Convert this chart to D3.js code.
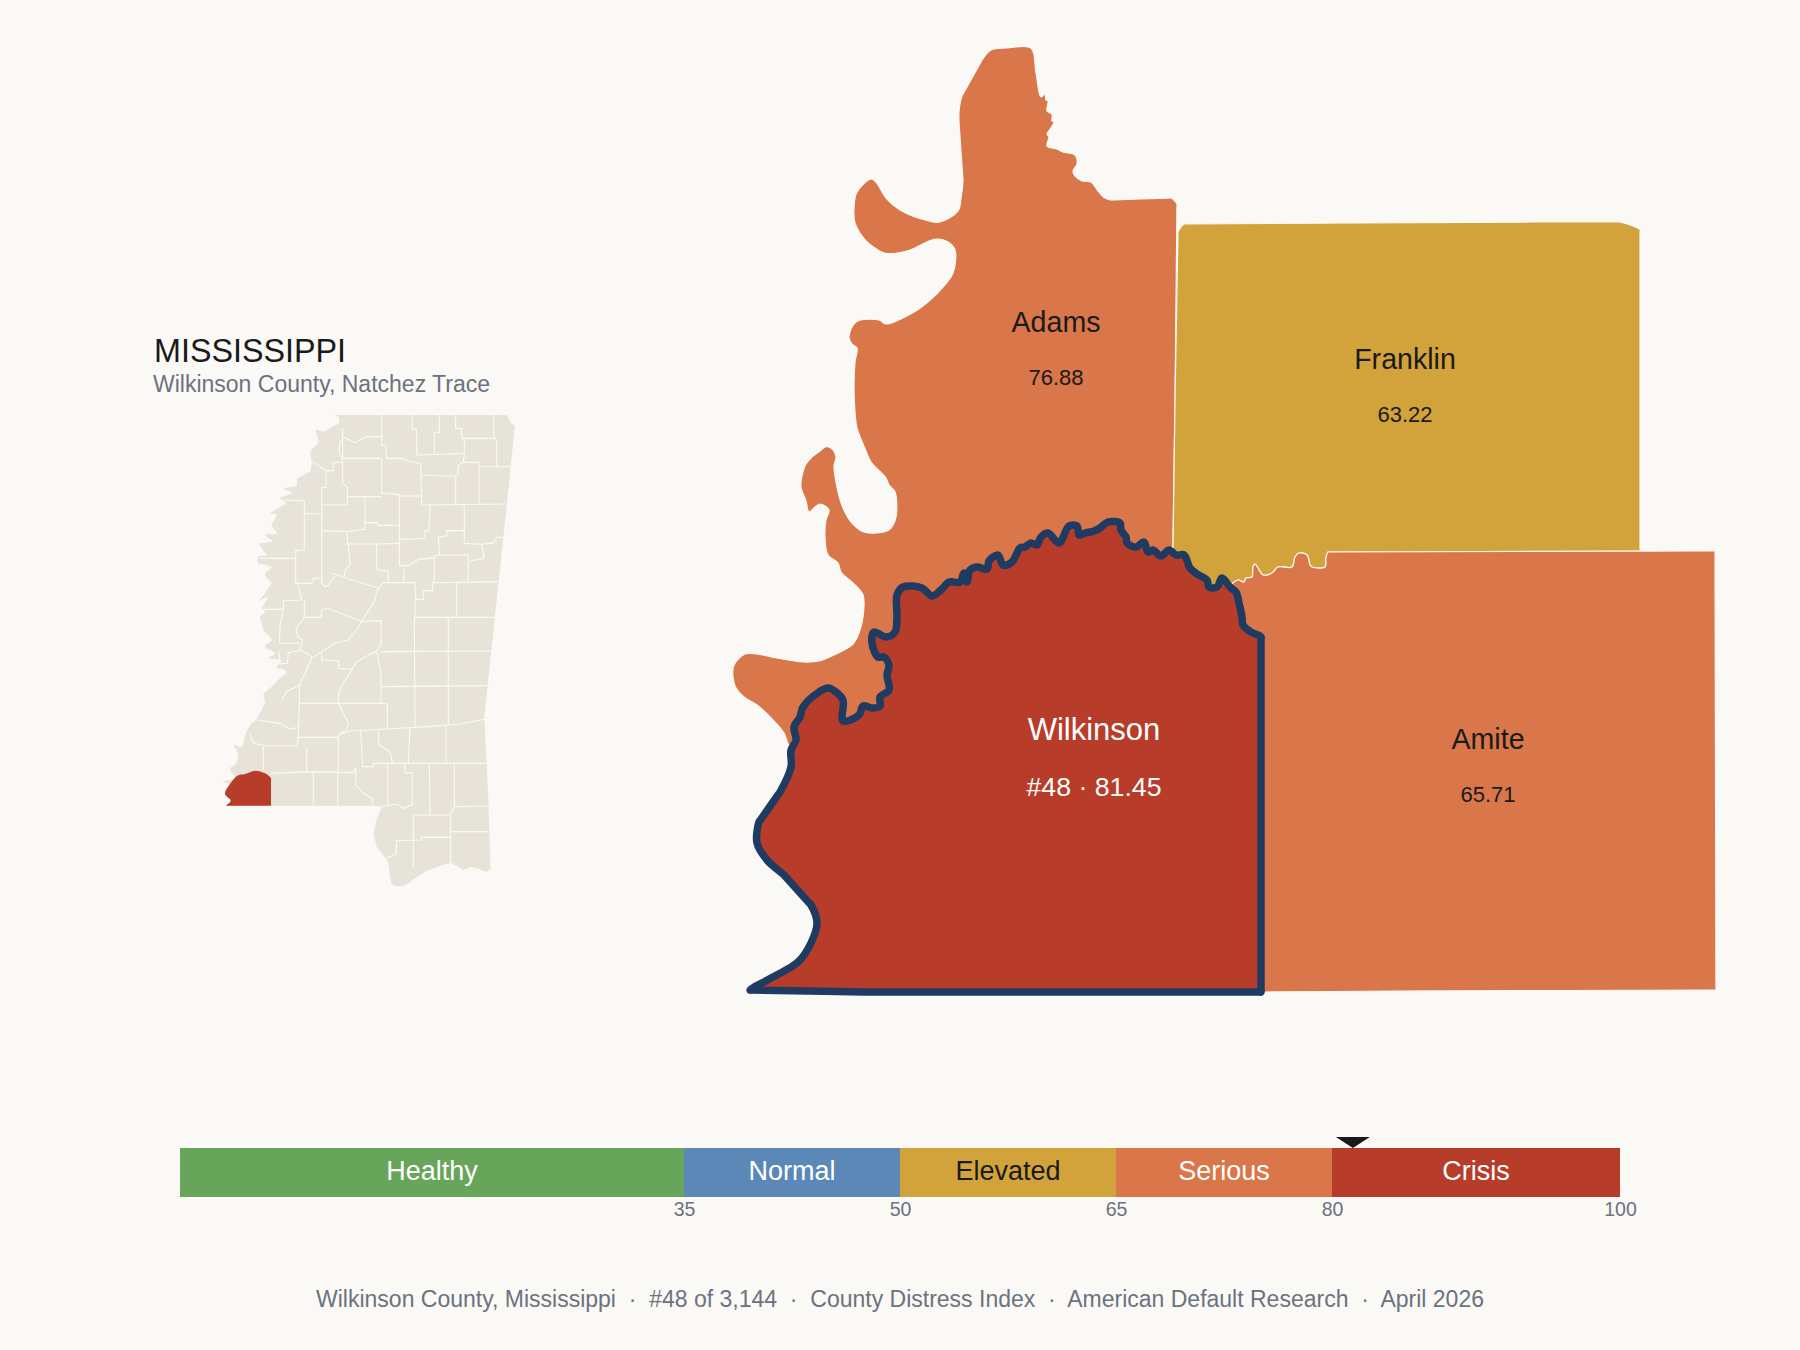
<!DOCTYPE html>
<html>
<head>
<meta charset="utf-8">
<title>Wilkinson County, Mississippi</title>
<script src="https://cdn.jsdelivr.net/npm/d3@7"></script>
<style>
  html, body { margin: 0; background: #fbf9f5; }
  text { font-family: "Liberation Sans", Arial, sans-serif; }
</style>
</head>
<body>
<svg id="chart" width="1800" height="1350"></svg>
<script>
// distress tiers
const tierNames = ["Healthy", "Normal", "Elevated", "Serious", "Crisis"];
const tierBreaks = [0, 35, 50, 65, 80, 100];
const tierColors = ["#67a65a", "#5c88b8", "#d1a33a", "#d9764a", "#b83c2a"];
const tierText = ["#ffffff", "#ffffff", "#1a1a1a", "#ffffff", "#ffffff"];
const tickValues = [35, 50, 65, 80, 100];

// counties on the main map
const countyNames = ["Adams", "Franklin", "Amite", "Wilkinson"];
const countyScores = [76.88, 63.22, 65.71, 81.45];
const labelSpots = [[1056, 332], [1405, 369], [1488, 749], [1094, 740]];
const focusRank = 48;

// outlines
const adamsShape = [[1031,48],[1036,73],[1041,97],[1045,94],[1046,100],[1048,101],[1047,111],[1052,114],[1052,121],[1054,122],[1051,128],[1047,134],[1049,137],[1047,146],[1057,149],[1063,152],[1075,155],[1077,164],[1073,171],[1075,176],[1082,181],[1091,182],[1098,191],[1105,198],[1111,200],[1171,198],[1177,204],[1175,400],[1173,546],[1173,570],[900,720],[789,745],[784,733],[773,720],[757,705],[744,697],[736,688],[733,677],[734,665],[745,654],[757,654],[777,658],[803,662],[819,661],[834,655],[853,644],[859,633],[863,617],[863,595],[853,583],[841,572],[838,563],[828,555],[825,537],[826,520],[829,510],[820,504],[814,508],[809,512],[806,501],[801,487],[802,476],[806,464],[812,457],[820,451],[825,447],[831,448],[836,457],[834,466],[837,487],[843,508],[852,523],[864,532],[884,532],[891,528],[896,517],[895,492],[889,485],[886,478],[871,462],[866,451],[857,428],[855,412],[854,387],[855,362],[857,348],[852,344],[849,337],[856,322],[879,320],[886,324],[914,312],[929,301],[943,287],[953,273],[955,250],[948,242],[937,239],[929,241],[907,251],[884,253],[875,248],[866,241],[855,223],[854,208],[857,192],[871,179],[876,182],[886,198],[900,210],[929,221],[940,222],[958,211],[961,198],[963,180],[960,137],[959,112],[962,96],[982,60],[991,50],[1007,48]];
const franklinShape = [[1184,224],[1537,222],[1620,222],[1640,230],[1640,551],[1328,552],[1326,558],[1325,567],[1312,567],[1310,565],[1307,555],[1299,553],[1295,557],[1292,567],[1278,567],[1272,573],[1263,575],[1258,568],[1255,564],[1253,567],[1252,577],[1246,578],[1244,582],[1238,580],[1233,583],[1225,592],[1175,565],[1173,547],[1175,400],[1178,232]];
const amiteShape = [[1233,583],[1238,580],[1244,582],[1246,578],[1252,577],[1253,567],[1255,564],[1258,568],[1263,575],[1272,573],[1278,567],[1292,567],[1295,557],[1299,553],[1307,555],[1310,565],[1312,567],[1325,567],[1326,558],[1328,552],[1715,551],[1716,990],[1400,991],[1262,992],[1240,640],[1225,592]];
const wilkinsonShape = [[1261,992],[1261,800],[1261,637],[1251,632],[1243,625],[1242,617],[1239,603],[1236,592],[1230,587],[1222,578],[1217,587],[1209,587],[1207,580],[1197,574],[1190,568],[1184,555],[1176,555],[1169,550],[1161,556],[1153,550],[1148,552],[1144,542],[1136,547],[1127,543],[1126,537],[1121,530],[1120,523],[1108,522],[1100,528],[1094,531],[1085,533],[1079,535],[1077,526],[1069,526],[1059,543],[1048,533],[1041,537],[1037,545],[1031,543],[1025,547],[1020,548],[1012,562],[1003,565],[998,555],[989,561],[987,569],[977,567],[970,570],[967,582],[964,573],[960,582],[949,582],[941,590],[932,596],[922,588],[903,587],[897,595],[897,617],[895,632],[886,637],[874,632],[872,643],[878,657],[884,657],[889,665],[887,675],[889,690],[880,697],[880,706],[872,708],[863,706],[859,715],[843,721],[843,700],[836,692],[828,688],[819,692],[803,707],[800,717],[794,727],[796,740],[791,750],[791,767],[780,792],[759,822],[757,843],[767,860],[784,875],[811,905],[817,923],[811,943],[798,962],[773,977],[750,990],[868,992],[1100,992]];

// state inset
const stateShape = [[373,45],[890,45],[903,68],[915,78],[823,958],[835,1190],[842,1406],[830,1415],[800,1405],[780,1402],[760,1410],[725,1390],[690,1398],[650,1412],[615,1435],[585,1455],[550,1455],[540,1430],[535,1390],[528,1375],[500,1340],[490,1300],[500,1260],[515,1220],[470,1217],[48,1217],[62,1202],[45,1182],[60,1155],[40,1145],[75,1135],[60,1105],[75,1095],[85,1065],[72,1035],[95,1042],[105,1005],[115,985],[125,970],[135,962],[155,930],[165,905],[160,885],[185,860],[210,835],[230,815],[200,800],[215,780],[175,775],[195,760],[165,740],[185,720],[160,690],[150,650],[165,635],[155,625],[175,590],[150,600],[185,550],[165,525],[185,500],[145,490],[145,470],[170,465],[145,430],[190,425],[165,405],[200,400],[185,375],[200,345],[180,340],[230,310],[210,295],[245,280],[220,265],[260,258],[262,235],[300,215],[305,185],[302,155],[325,125],[318,90],[340,95],[388,70],[385,50]];
const focusShape = [[48,1217],[62,1202],[45,1182],[60,1152],[82,1127],[105,1122],[135,1112],[165,1120],[183,1135],[183,1217]];
const stateBorders = [
  [[515,45],[515,135],[527,137],[530,175],[575,175],[590,183],[632,190]],
  [[607,45],[607,88],[620,88],[620,165],[632,165],[760,160]],
  [[688,45],[688,97],[673,97],[673,160]],
  [[737,45],[737,85],[755,85],[755,115],[855,115],[860,122],[860,200]],
  [[851,45],[851,115]],
  [[763,115],[763,160],[760,187],[807,187],[807,310]],
  [[398,85],[398,178],[387,155],[390,125],[405,113],[435,128],[470,110],[515,110]],
  [[398,175],[515,175]],
  [[515,175],[515,280],[568,283]],
  [[398,178],[398,250],[412,262],[412,315],[335,315]],
  [[308,185],[348,212],[348,262],[335,262],[335,392]],
  [[348,212],[370,212],[370,187],[398,187]],
  [[412,290],[515,290]],
  [[465,290],[465,388],[450,390],[413,395]],
  [[632,190],[635,315]],
  [[568,288],[632,288]],
  [[635,225],[710,228],[735,228],[745,220],[745,195],[760,187]],
  [[737,228],[737,315]],
  [[807,200],[900,200]],
  [[635,315],[890,312]],
  [[660,315],[657,392],[645,392],[645,415],[568,418]],
  [[568,283],[568,497],[595,497]],
  [[763,312],[763,430]],
  [[763,392],[710,392],[710,408],[685,412],[688,465],[775,465],[775,545]],
  [[763,430],[815,433],[850,428],[860,412],[880,412]],
  [[815,433],[822,475],[780,483]],
  [[688,465],[673,468],[673,545]],
  [[595,497],[625,478],[673,473]],
  [[583,505],[580,545]],
  [[465,368],[500,368],[505,376],[568,376]],
  [[412,395],[412,432],[500,432],[568,430]],
  [[500,432],[500,508],[535,515],[535,545]],
  [[335,392],[412,395]],
  [[335,392],[335,550],[345,560],[355,555],[375,530]],
  [[283,300],[283,450],[257,452],[257,550],[305,550],[310,535],[333,535]],
  [[212,300],[283,302]],
  [[283,340],[335,342]],
  [[150,475],[257,475]],
  [[415,432],[420,495],[405,510],[403,530]],
  [[365,520],[505,565]],
  [[520,548],[505,565],[490,610],[470,640],[455,665],[440,690],[415,720],[375,730],[335,755],[305,775],[290,810],[268,855],[230,875],[215,900]],
  [[520,548],[615,548],[617,598],[640,598],[640,572],[668,572],[668,548],[864,545]],
  [[740,548],[740,652]],
  [[615,598],[615,652],[855,652]],
  [[355,625],[455,665],[513,662],[513,735],[500,752],[513,820],[513,910],[532,912],[532,986]],
  [[265,555],[275,600],[220,602],[220,628],[160,628]],
  [[283,600],[283,652],[333,652],[335,630],[355,625]],
  [[283,652],[258,685],[262,710],[278,720],[270,750],[300,765],[305,775]],
  [[220,628],[210,680],[208,730]],
  [[613,652],[615,980]],
  [[715,652],[715,975]],
  [[515,755],[845,753]],
  [[515,860],[835,857]],
  [[385,1005],[420,993],[530,987],[650,980],[750,972],[823,958]],
  [[600,985],[595,1090]],
  [[708,977],[708,1090]],
  [[452,995],[458,1100]],
  [[506,990],[506,1035],[540,1055],[548,1090]],
  [[490,1090],[830,1090]],
  [[437,1102],[437,1155],[460,1180],[488,1197],[488,1217]],
  [[458,1100],[490,1100],[490,1090]],
  [[533,1090],[533,1217]],
  [[583,1090],[585,1118],[607,1118],[607,1217]],
  [[515,1220],[560,1212],[580,1225],[607,1215]],
  [[658,1090],[660,1243]],
  [[733,1090],[733,1218]],
  [[610,1245],[720,1245],[735,1220],[835,1218]],
  [[722,1245],[722,1295],[835,1295]],
  [[720,1312],[635,1312],[635,1320],[560,1322],[558,1362],[530,1375]],
  [[610,1245],[610,1400]],
  [[722,1295],[722,1390]],
  [[268,855],[268,910],[265,1010],[262,1038],[160,1038],[160,1110]],
  [[268,910],[385,910],[515,910]],
  [[385,910],[415,970],[410,990],[385,1005],[385,1115]],
  [[262,1012],[385,1012]],
  [[290,1040],[290,1115]],
  [[183,1120],[310,1115],[430,1118],[437,1102]],
  [[310,1115],[310,1217]],
  [[383,1115],[383,1217]],
  [[500,752],[440,785],[400,850],[387,875],[385,910]],
  [[335,755],[335,780],[385,782],[387,805],[430,808]],
  [[270,730],[210,730]],
  [[275,750],[235,758],[232,790],[205,792]],
  [[208,755],[208,790]],
  [[140,960],[210,970],[238,987],[262,983]],
  [[120,1000],[130,1030],[160,1035]]
];

const svg = d3.select("#chart");
const dark = "#1a1a1a", grey = "#6b7280", paper = "#fbf9f5";
const tierColor = d3.scaleThreshold().domain(tierBreaks.slice(1, 5)).range(tierColors);

// pin long edges so the spline stays straight along them
function tighten(ring, gap, long) {
  const out = [];
  ring.forEach((p, i) => {
    const q = ring[(i + 1) % ring.length];
    const len = Math.hypot(q[0] - p[0], q[1] - p[1]);
    out.push(p);
    if (len > long) {
      const t = gap / len;
      out.push([p[0] + (q[0] - p[0]) * t, p[1] + (q[1] - p[1]) * t]);
      out.push([q[0] - (q[0] - p[0]) * t, q[1] - (q[1] - p[1]) * t]);
    }
  });
  return out;
}

svg.append("rect").attr("width", 1800).attr("height", 1350).attr("fill", paper);

// title + inset
svg.append("text").attr("x", 154).attr("y", 362)
  .attr("font-size", 32.3).attr("fill", dark).text("MISSISSIPPI");
svg.append("text").attr("x", 153).attr("y", 392)
  .attr("font-size", 23).attr("fill", grey).text("Wilkinson County, Natchez Trace");

const insetX = d3.scaleLinear().domain([0, 960]).range([210, 530]);
const insetY = d3.scaleLinear().domain([0, 1470]).range([400, 890]);
const insetLine = d3.line().x(d => insetX(d[0])).y(d => insetY(d[1]));
const insetCurve = d3.line().x(d => insetX(d[0])).y(d => insetY(d[1]))
  .curve(d3.curveCatmullRomClosed.alpha(0.5));

const inset = svg.append("g");
inset.append("path").attr("d", insetCurve(tighten(stateShape, 6, 40))).attr("fill", "#e8e3d8");
inset.selectAll("path.border").data(stateBorders).join("path")
  .attr("class", "border")
  .attr("d", insetLine)
  .attr("fill", "none").attr("stroke", paper).attr("stroke-width", 1.1);
inset.append("path").attr("d", insetCurve(tighten(focusShape, 6, 40))).attr("fill", tierColor(countyScores[3]));

// main map
const shapes = [adamsShape, franklinShape, amiteShape, wilkinsonShape];
const allPts = shapes.flat();
const mapX = d3.scaleLinear().domain(d3.extent(allPts, d => d[0])).range([733, 1716]);
const mapY = d3.scaleLinear().domain(d3.extent(allPts, d => d[1])).range([48, 992]);
const mapLine = d3.line().x(d => mapX(d[0])).y(d => mapY(d[1]))
  .curve(d3.curveCatmullRomClosed.alpha(0.5));

svg.append("g").selectAll("path").data(shapes).join("path")
  .attr("d", d => mapLine(tighten(d, 3, 34)))
  .attr("fill", (d, i) => tierColor(countyScores[i]))
  .attr("stroke", (d, i) => countyNames[i] == "Wilkinson" ? "#1f3b61" : paper)
  .attr("stroke-width", (d, i) => countyNames[i] == "Wilkinson" ? 7.5 : 1.2)
  .attr("stroke-linejoin", "round");

countyNames.forEach((name, i) => {
  const focus = name == "Wilkinson";
  const col = focus ? "#ffffff" : dark;
  svg.append("text").attr("x", labelSpots[i][0]).attr("y", labelSpots[i][1])
    .attr("text-anchor", "middle").attr("font-size", focus ? 31 : 28.6).attr("fill", col).text(name);
  svg.append("text").attr("x", labelSpots[i][0]).attr("y", labelSpots[i][1] + (focus ? 56 : 53))
    .attr("text-anchor", "middle").attr("font-size", focus ? 26.7 : 22).attr("fill", col)
    .text(focus ? `#${focusRank} · ${countyScores[i]}` : countyScores[i]);
});

// scale bar
const barX = d3.scaleLinear().domain([0, 100]).range([180, 1620]);
const barTop = 1148, barH = 49;
const tiers = tierNames.map((name, i) => ({ name, from: tierBreaks[i], to: tierBreaks[i + 1], i }));

const bar = svg.append("g");
bar.selectAll("rect").data(tiers).join("rect")
  .attr("x", d => barX(d.from)).attr("y", barTop)
  .attr("width", d => barX(d.to) - barX(d.from)).attr("height", barH)
  .attr("fill", d => tierColors[d.i]);
bar.selectAll("text").data(tiers).join("text")
  .attr("x", d => barX((d.from + d.to) / 2)).attr("y", barTop + 32)
  .attr("text-anchor", "middle").attr("font-size", 27)
  .attr("fill", d => tierText[d.i]).text(d => d.name);

const axis = svg.append("g").attr("transform", `translate(0,${barTop + barH})`)
  .call(d3.axisBottom(barX).tickValues(tickValues).tickSize(0).tickPadding(5));
axis.select(".domain").remove();
axis.selectAll("text").attr("font-size", 19.5).attr("fill", grey)
  .style("font-family", '"Liberation Sans", Arial, sans-serif');

// marker for the county's score
const mx = barX(countyScores[3]);
svg.append("path")
  .attr("d", d3.line()([[mx - 17, barTop - 11], [mx + 17, barTop - 11], [mx, barTop]]) + "Z")
  .attr("fill", dark);

// footer
svg.append("text").attr("x", 900).attr("y", 1307).attr("text-anchor", "middle")
  .attr("font-size", 23).attr("fill", grey).attr("xml:space", "preserve")
  .style("white-space", "pre")
  .text("Wilkinson County, Mississippi  ·  #48 of 3,144  ·  County Distress Index  ·  American Default Research  ·  April 2026");
</script>
</body>
</html>
